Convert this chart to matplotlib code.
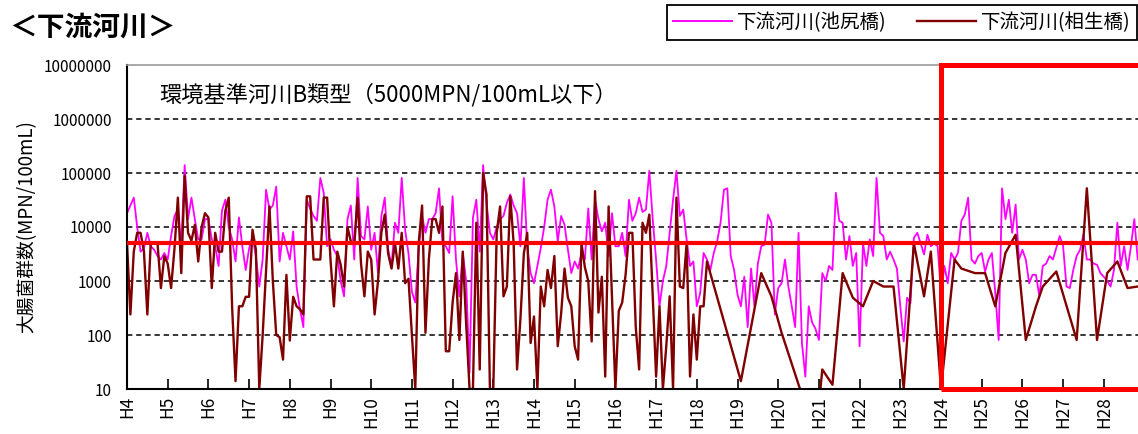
import numpy as np
import matplotlib
matplotlib.use('Agg')
import matplotlib.pyplot as plt
from matplotlib.patches import Rectangle
from matplotlib.lines import Line2D

plt.rcParams['font.family'] = ['Noto Sans CJK JP', 'DejaVu Sans']

# 池尻橋: monthly values from H4 (April) onward, MPN/100mL
ikejiri = [
    18000, 25000, 35000, 10000, 3500, 4000, 7800, 4400, 3800, 2900, 2500, 3300, 2500, 6800,
    16000, 21000, 4400, 140000, 14000, 35000, 14000, 5900, 5900, 14000, 14000, 5900, 4400, 1900,
    20000, 32000, 10000, 5900, 2300, 15000, 4400, 1600, 4000, 6800, 2900, 790, 2500, 49000,
    21000, 25000, 56000, 2300, 7800, 4400, 2500, 8300, 790, 300, 140, 32000, 22000, 16000,
    13000, 81000, 43000,
    4400, 5900, 3800, 2900, 1000, 520, 14000, 25000, 2500, 81000, 6800, 5900, 24000, 3800,
    7800, 1400, 16000, 35000, 3800, 1900, 12000, 7800, 81000, 8900, 3200, 630, 400, 4000, 16000,
    7800, 14000, 14000, 18000, 52000, 5000, 4400, 3300, 37000, 2500, 520, 3300, 1000, 20,
    15000, 32000, 3500, 140000, 28000, 7800, 5900, 10000, 14000, 16000, 28000, 40000, 25000,
    18000, 4400, 81000,
    4400, 1400, 910, 1900, 4100, 10000, 32000, 49000, 24000, 5400, 16000, 11000, 3800, 1400,
    2300, 1700, 3300, 2500, 22000, 2500, 32000, 14000, 8300, 12000, 2900, 18000, 4400, 4400, 7800,
    2900, 32000, 13000, 18000, 35000, 19000, 21000, 110000, 14000, 2500, 340, 1000, 1900, 7800,
    32000, 110000, 16000, 21000, 5900, 1900, 2300, 340, 600, 3300, 2500, 1600, 3300, 5400,
    12000, 49000,
    52000, 2900, 1600, 560, 340, 1200, 140, 1700, 340, 2100, 4400, 4700, 17000, 12000, 240,
    740, 910, 2500, 790, 340, 140, 7800, 71, 17, 340, 170, 130, 81, 1400,
    1000, 1900, 1600, 43000, 13000, 12000, 2500, 6800, 1900, 3300, 62, 5000, 1900, 5900, 2900,
    81000, 7800, 6800, 2500, 3500, 2500, 1700, 340, 76, 490, 390, 6300, 7800,
    5000, 3100, 7200, 4400, 5000, 4400, 600, 1900, 910, 3300, 2500, 3300, 13000, 17000, 35000,
    2500, 2100, 2900, 3300, 1500, 2500, 3300, 600, 81, 52000, 14000, 32000, 7800, 26000, 2500, 3800,
    2500, 910, 1300, 1300, 520, 1900, 2100, 2900, 2500, 4100, 6800, 4400, 790, 740, 1600, 2900,
    3800, 7200, 2500, 2500, 2100, 2000, 1400, 1200, 1000, 790, 1600, 12000, 1900, 4400, 1600,
    4400, 14000, 2500,
]

# 相生橋: monthly until about H18, then sparser sampling
aioi_monthly = [
    5100, 240, 3500, 7800, 7800, 3500, 240, 5000, 5000, 5000, 740, 2900, 2100, 740, 4000,
    35000, 1400, 90000, 7800, 5600, 11000, 2300, 10000, 18000, 15000, 740, 7800, 3500,
    3500, 20000, 35000, 320, 14, 340, 340, 510, 510, 8900, 3800, 10, 100, 1600, 24000, 1000,
    100, 91, 35, 1300, 79, 510, 340, 300, 240, 37000, 37000, 2500, 2500, 2500, 35000,
    35000, 2500, 340, 3500, 2000, 790, 10000, 5400, 5000, 35000, 2100, 520, 3500, 2500, 240,
    1000, 7900, 17000, 3200, 1700, 5000, 1700, 7800, 910, 1100, 100, 10, 5000, 25000,
    110, 2500, 14000, 14000, 7800, 24000, 50, 50, 400, 1400, 81, 3500, 160, 10, 10, 12000,
    23, 100000, 40000, 10, 10, 7800, 24000, 520, 790, 37000, 5000, 23, 200, 3200,
    7800, 71, 220, 10, 790, 340, 1600, 740, 2900, 62, 250, 1700, 490, 340, 62, 35, 5000,
    1800, 1000, 76, 46000, 260, 1200, 17, 24000, 500, 10, 280, 400, 1300,
    7800, 7800, 140, 23, 12000, 7800, 17000, 520, 17, 340, 10, 62, 520, 10, 35000, 790, 740,
    5000, 17, 240, 35, 340, 340, 2300,
]
aioi_late_months = [181, 187, 190, 193, 200, 204, 205, 208, 211, 214, 217, 220, 223, 226,
                    229, 232, 235, 237, 240, 244, 246, 250, 253, 256, 259, 262, 265, 268,
                    270, 274, 280, 283, 286, 289, 292, 295, 298]
aioi_late = [14, 1400, 520, 110, 5, 5, 23, 12, 1400, 490, 340, 1000, 790, 790,
             10, 5000, 520, 3500, 10, 2500, 1700, 1400, 1400, 340, 3300, 7200, 81, 340,
             790, 1500, 81, 52000, 81, 1400, 2300, 740, 790]

years = list(range(4, 29))
year_labels = ['H%d' % y for y in years]
standard = 5000          # 環境基準 B類型
target_start = 24        # H24 以降の枠
grid_levels = [1e2, 1e3, 1e4, 1e5, 1e6]
ytick_vals = [1e1, 1e2, 1e3, 1e4, 1e5, 1e6, 1e7]
ytick_labels = ['10', '100', '1000', '10000', '100000', '1000000', '10000000']

x_ike = 4 + np.arange(len(ikejiri)) / 12.0
aioi_months = list(range(len(aioi_monthly))) + aioi_late_months
x_aioi = 4 + np.array(aioi_months) / 12.0
aioi = aioi_monthly + aioi_late

W, H = 1138, 434
fig = plt.figure(figsize=(W / 100, H / 100), dpi=100)
left, bottom, top = 127, 389, 65
ax = fig.add_axes([left / W, 1 - bottom / H, 1 - left / W, (bottom - top) / H])

for g in grid_levels:
    ax.axhline(g, color='black', lw=1.1, ls=(0, (3.5, 2.5)), zorder=1)

ax.plot(x_ike, ikejiri, color='#FF00FF', lw=1.3, zorder=2)
ax.plot(x_aioi, aioi, color='#800000', lw=1.7, zorder=2.5)

ax.axhline(standard, color='#FF0000', lw=3, zorder=3)
ax.add_patch(Rectangle((target_start, 10), 12, 1e7 - 10, fill=False,
                       edgecolor='#FF0000', lw=3.6, zorder=4, clip_on=False))

ax.set_yscale('log')
ax.set_ylim(10, 1e7)
ax.set_xlim(4, 4 + (W - left) / 40.7)
ax.set_yticks(ytick_vals)
ax.set_yticklabels(ytick_labels)
ax.yaxis.set_minor_locator(matplotlib.ticker.NullLocator())
ax.set_xticks(years)
ax.set_xticklabels(year_labels, rotation=90, va='top', ha='center', fontsize=12.5)
ax.tick_params(axis='x', direction='in', length=7, width=1.2, pad=5)
ax.tick_params(axis='y', length=0, pad=11, labelsize=11)

for s in ['left', 'bottom']:
    ax.spines[s].set_linewidth(1.5)
ax.spines['right'].set_visible(False)
ax.spines['top'].set_color('#999999')
ax.spines['top'].set_linestyle((0, (2, 1)))
ax.spines['top'].set_linewidth(1.2)

ax.set_ylabel('大腸菌群数(MPN/100mL)', fontsize=13.5)
ax.yaxis.set_label_coords(-0.089, 0.5)

ax.text(0.032, 0.907, '環境基準河川B類型（5000MPN/100mL以下）', transform=ax.transAxes,
        fontsize=16, va='center', ha='left')

fig.text(9 / W, 1 - 28 / H, '＜下流河川＞', fontsize=20, fontweight='bold', va='center')

handles = [Line2D([], [], color='#FF00FF', lw=1.4), Line2D([], [], color='#800000', lw=1.7)]
leg = fig.legend(handles, ['下流河川(池尻橋)', '下流河川(相生橋)'], loc='upper right',
                 bbox_to_anchor=(1 - 1 / W, 1 - 5 / H), borderaxespad=0, ncol=2, fontsize=14,
                 frameon=True, fancybox=False, edgecolor='black', framealpha=1,
                 handlelength=3.0, handletextpad=0.25, columnspacing=1.6, borderpad=0.35)
leg.get_frame().set_linewidth(1.3)

fig.savefig('out.png', dpi=100)
